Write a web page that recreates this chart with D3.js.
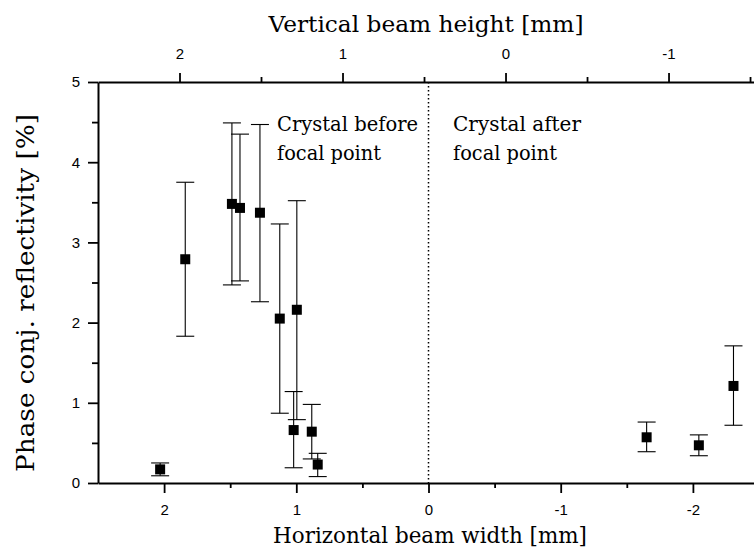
<!DOCTYPE html>
<html>
<head>
<meta charset="utf-8">
<script src="https://cdn.jsdelivr.net/npm/d3@7"></script>
<style>
  body { margin: 0; background: #fff; }
  svg { display: block; }
</style>
</head>
<body>
<svg id="chart" width="754" height="554"></svg>
<script>
// data
const beamWidth = [2.03, 1.84, 1.487, 1.426, 1.275, 1.125, 0.996, 1.02, 0.883, 0.838, -1.65, -2.045, -2.307];
const reflectivity = [0.17, 2.79, 3.48, 3.43, 3.37, 2.05, 2.16, 0.66, 0.64, 0.23, 0.57, 0.47, 1.21];
const errLower = [0.09, 1.83, 2.47, 2.52, 2.26, 0.87, 0.79, 0.19, 0.30, 0.08, 0.39, 0.34, 0.72];
const errUpper = [0.25, 3.75, 4.49, 4.35, 4.47, 3.23, 3.52, 1.14, 0.98, 0.37, 0.76, 0.60, 1.71];

const bottomMajor = [2, 1, 0, -1, -2];
const bottomMinor = [1.5, 0.5, -0.5, -1.5];
const topMajor = [2, 1, 0, -1];
const topMinor = [1.5, 0.5, -0.5, -1.5];
const leftMajor = [0, 1, 2, 3, 4, 5];
const leftMinor = [0.5, 1.5, 2.5, 3.5, 4.5];

const data = beamWidth.map((w, i) => ({
    w: w, r: reflectivity[i], lo: errLower[i], hi: errUpper[i]
}));

const svg = d3.select("#chart");
const plotL = 98, plotR = 759, plotT = 82, plotB = 483;

// --- scales ---
const x = d3.scaleLinear().domain([2.5, -2.5]).range([plotL, plotR]);
const xTop = d3.scaleLinear().domain([2.5, -1.555]).range([plotL, plotR]);
const y = d3.scaleLinear().domain([0, 5]).range([plotB, plotT]);

const tickFont = "'Liberation Sans', Arial, sans-serif";
const serif = "'DejaVu Serif', Georgia, serif";
const plain = d => String(d); // hyphen minus like the original

// --- axes ---
const styleAxis = (g, labels) => {
    g.selectAll(".tick line").attr("stroke", "#000").attr("stroke-width", 1.8);
    g.select(".domain").attr("stroke", "#000").attr("stroke-width", 2);
    g.selectAll(".tick text").attr("font-family", tickFont).attr("font-size", 15).attr("fill", "#000");
    if (!labels) g.selectAll(".tick text").remove();
};

// bottom
svg.append("g").attr("transform", `translate(0,${plotB})`)
    .call(d3.axisBottom(x).tickValues(bottomMajor).tickSize(10).tickSizeOuter(0).tickPadding(11).tickFormat(plain))
    .call(g => styleAxis(g, true));
svg.append("g").attr("transform", `translate(0,${plotB})`)
    .call(d3.axisBottom(x).tickValues(bottomMinor).tickSize(5).tickSizeOuter(0))
    .call(g => { styleAxis(g, false); g.select(".domain").remove(); });

// top
svg.append("g").attr("transform", `translate(0,${plotT})`)
    .call(d3.axisTop(xTop).tickValues(topMajor).tickSize(9).tickSizeOuter(0).tickPadding(14).tickFormat(plain))
    .call(g => styleAxis(g, true));
svg.append("g").attr("transform", `translate(0,${plotT})`)
    .call(d3.axisTop(xTop).tickValues(topMinor).tickSize(5).tickSizeOuter(0))
    .call(g => { styleAxis(g, false); g.select(".domain").remove(); });

// left
svg.append("g").attr("transform", `translate(${plotL},0)`)
    .call(d3.axisLeft(y).tickValues(leftMajor).tickSize(10).tickSizeOuter(0).tickPadding(8).tickFormat(plain))
    .call(g => styleAxis(g, true));
svg.append("g").attr("transform", `translate(${plotL},0)`)
    .call(d3.axisLeft(y).tickValues(leftMinor).tickSize(6).tickSizeOuter(0))
    .call(g => { styleAxis(g, false); g.select(".domain").remove(); });

// dotted line at focal point
svg.append("line")
    .attr("x1", x(0)).attr("x2", x(0))
    .attr("y1", y(5)).attr("y2", y(0))
    .attr("stroke", "#000").attr("stroke-width", 1.5)
    .attr("stroke-dasharray", "1.5 2.5");

// --- error bars ---
const cap = 9;
const eb = svg.append("g").attr("stroke", "#000").attr("stroke-width", 1.1).attr("fill", "none");
eb.selectAll(".stem").data(data).enter().append("line")
    .attr("x1", d => x(d.w)).attr("x2", d => x(d.w))
    .attr("y1", d => y(d.lo)).attr("y2", d => y(d.hi));
eb.selectAll(".capHi").data(data).enter().append("line")
    .attr("x1", d => x(d.w) - cap).attr("x2", d => x(d.w) + cap)
    .attr("y1", d => y(d.hi)).attr("y2", d => y(d.hi));
eb.selectAll(".capLo").data(data).enter().append("line")
    .attr("x1", d => x(d.w) - cap).attr("x2", d => x(d.w) + cap)
    .attr("y1", d => y(d.lo)).attr("y2", d => y(d.lo));

// --- markers ---
const sq = 10;
svg.append("g").selectAll("rect").data(data).enter().append("rect")
    .attr("x", d => x(d.w) - sq / 2).attr("y", d => y(d.r) - sq / 2)
    .attr("width", sq).attr("height", sq).attr("fill", "#000");

// --- texts ---
const txt = (s, tx, ty, size, len, anchor) => svg.append("text")
    .attr("x", tx).attr("y", ty)
    .attr("font-family", serif).attr("font-size", size)
    .attr("text-anchor", anchor || "start")
    .attr("textLength", len).attr("lengthAdjust", "spacingAndGlyphs")
    .text(s);

txt("Vertical beam height [mm]", 426, 32, 23, 315, "middle");
txt("Horizontal beam width [mm]", 430, 543, 23, 314, "middle");
txt("Crystal before", 277, 131, 21, 141);
txt("focal point", 277, 160, 21, 104);
txt("Crystal after", 453, 131, 21, 128);
txt("focal point", 453, 160, 21, 104);

svg.append("text")
    .attr("transform", "translate(34,293) rotate(-90)")
    .attr("font-family", serif).attr("font-size", 24)
    .attr("text-anchor", "middle")
    .attr("textLength", 358).attr("lengthAdjust", "spacingAndGlyphs")
    .text("Phase conj. reflectivity [%]");
</script>
</body>
</html>
